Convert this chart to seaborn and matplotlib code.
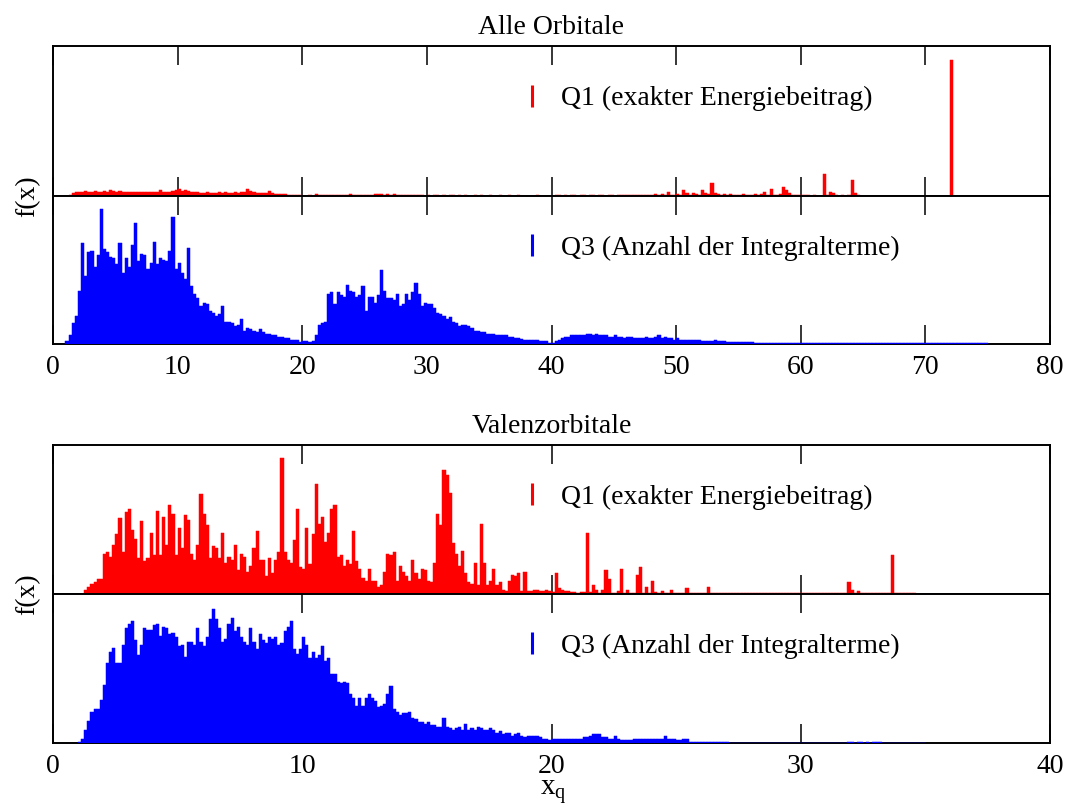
import numpy as np
import pandas as pd
import matplotlib
matplotlib.use("Agg")
import matplotlib.pyplot as plt
from matplotlib.lines import Line2D
import seaborn as sns

# ---------------- data ----------------
# All orbitals: histogram bins of width 0.25 starting at x = 1.0
all_start = 1.0
all_width = 0.25
q1_all = [
    0, 1, 2, 2.5, 3, 3, 3.5, 3,
    3, 3.5, 3, 3, 3.5, 3, 4, 3.5,
    3, 3.5, 3, 2.5, 3, 2.5, 3, 2.5,
    2.5, 3, 2.5, 3, 3, 2.5, 4, 2.5,
    3, 3, 3.5, 4, 4.5, 3.5, 4, 3.5,
    3, 3, 2.5, 2, 2, 2.5, 2, 2,
    2, 2.5, 2, 3, 2, 2, 2.5, 2,
    2.5, 3, 4.5, 3.5, 2.5, 2, 2, 2,
    2, 3.5, 2, 1.5, 1.5, 1.5, 1.5, 1,
    1, 1, 1, 0.5, 0.3, 0.3, 0.5, 0.3,
    1.5, 0.5, 0.8, 0.8, 0.5, 1, 0.8, 0.8,
    0.8, 1, 1, 1.2, 1, 0.8, 1, 0.8,
    0.8, 0.8, 1, 1.5, 1.5, 1.5, 1, 1.5,
    1, 1.2, 0.8, 1, 0.8, 0.5, 0.8, 0.5,
    0.5, 0.8, 0.5, 0.3, 0.5, 0.3, 0.8, 0.5,
    0.3, 0.8, 0.3, 0.5, 0.5, 0.3, 0.5, 0.3,
    0.5, 0.3, 0.3, 0.5, 0.3, 0.5, 0.3, 0.3,
    0.5, 0.3, 0.3, 0.5, 0.3, 0.3, 0.5, 0.3,
    0.3, 0.5, 0.3, 0.3, 0.3, 0.3, 0.3, 0.5,
    0.3, 0.3, 0.3, 0.3, 0.3, 1, 0.5, 0.3,
    0.5, 0.3, 0.8, 0.5, 0.3, 0.5, 0.8, 0.3,
    0.5, 0.8, 0.3, 0.5, 0.5, 0.3, 0.8, 0.5,
    0.3, 0.8, 0.5, 0.5, 0.8, 0.8, 1, 0.8,
    1, 0.8, 1, 1, 1, 1.5, 1, 1.2,
    1, 3, 1, 0.5, 1.5, 1, 4, 2,
    1, 2, 1.5, 1, 4, 2, 1.5, 8.4,
    2, 1.5, 1, 1.5, 1, 1.5, 1, 1,
    1, 1.5, 1, 1, 1, 1.5, 1, 1.5,
    3, 1, 4.5, 1, 1, 1.5, 6, 4,
    2, 1, 1, 0.5, 0.5, 0.5, 0.5, 0,
    0.5, 0, 0, 15, 0.5, 3, 2, 0.5,
    0, 0.5, 0, 0.5, 10.7, 2, 0.5, 0,
    0, 0, 0, 0, 0, 0, 0, 0,
    0, 0, 0, 0, 0, 0, 0, 0,
    0, 0, 0, 0, 0, 0, 0, 0,
    0, 0, 0, 0, 91, 0, 0, 0,
    0, 0, 0, 0, 0, 0, 0, 0,
]
q3_all = [
    2, 6, 14, 19, 36, 68, 46, 62,
    63, 52, 60, 91, 64, 62, 59, 58,
    54, 68, 48, 58, 52, 67, 82, 56,
    61, 60, 51, 55, 69, 54, 58, 57,
    56, 63, 86, 51, 55, 48, 44, 65,
    39, 34, 31, 26, 28, 27, 22, 21,
    19, 20, 26, 15, 15, 14, 12, 13,
    17, 9, 11, 10, 9, 8, 10, 8,
    7, 7, 6, 6, 5, 5, 4, 4,
    3, 3, 2.5, 1.5, 2, 2, 1.5, 2,
    6, 13, 14, 15, 34, 35, 27, 35,
    33, 32, 40, 36, 35, 32, 33, 39,
    22, 32, 32, 28, 33, 50, 36, 31,
    31, 30, 34, 26, 27, 34, 30, 35,
    41, 34, 26, 28, 27, 27, 24, 21,
    20, 19, 17, 18, 15, 14, 12, 13,
    13, 12, 11, 9, 9, 8, 8, 7,
    7, 7, 6, 6, 6, 6, 5, 5,
    4, 4, 3.5, 3, 3, 3, 2.5, 2.5,
    2, 2, 2, 1, 1, 2, 3, 4,
    5, 5, 6, 6, 6, 6, 6, 7,
    7, 6, 7, 6, 6, 6, 5, 5,
    6, 5, 5, 4, 5, 5, 4, 4,
    4, 4, 5, 4, 4, 5, 6, 4,
    5, 4, 4, 3, 4, 3, 3, 3,
    3, 2.5, 2.5, 2.5, 2, 2, 2, 2,
    3, 2, 2, 2, 1.5, 1.5, 1.5, 1.5,
    1.5, 1.2, 1.2, 1.2, 1.2, 1, 1, 1,
    1, 1, 1, 1, 0.8, 0.8, 0.8, 0.8,
    0.8, 0.8, 0.8, 0.8, 0.6, 0.6, 0.6, 0.6,
    0.6, 0.6, 0.6, 0.6, 0.6, 0.6, 0.6, 0.6,
    0.6, 0.6, 0.6, 0.6, 0.6, 0.6, 0.6, 0.6,
    0.6, 0.6, 0.6, 0.6, 0.6, 0.6, 0.6, 0.6,
    0.6, 0.6, 0.6, 0.6, 0.6, 0.6, 0.6, 0.6,
    0.6, 0.6, 0.6, 0.6, 0.6, 0.6, 0.6, 0.6,
    0.6, 0.6, 0.6, 0.6, 0.6, 0.6, 0.6, 0.6,
    0.6, 0.6, 0.6, 0.6, 0.6, 0.6, 0.6, 0.6,
]

# Valence orbitals: histogram bins of width 0.125 starting at x = 1.0
val_start = 1.0
val_width = 0.125
q1_val = [
    0, 0, 3, 5, 7, 8, 10, 10,
    27, 28, 25, 33, 40, 51, 28, 55,
    57, 43, 37, 24, 49, 22, 24, 41,
    26, 56, 26, 52, 33, 60, 54, 26,
    44, 31, 53, 50, 27, 23, 33, 67,
    54, 46, 24, 32, 31, 24, 41, 21,
    25, 23, 33, 16, 27, 25, 15, 19,
    31, 42, 23, 23, 12, 24, 14, 23,
    28, 91, 28, 23, 21, 36, 57, 18,
    17, 44, 20, 40, 74, 47, 52, 35,
    41, 57, 60, 25, 26, 19, 23, 20,
    42, 22, 17, 11, 9, 17, 9, 9,
    5, 6, 15, 27, 26, 28, 9, 19,
    15, 12, 9, 23, 14, 10, 17, 16,
    9, 8, 21, 54, 46, 83, 80, 68,
    34, 27, 19, 29, 14, 8, 7, 21,
    6, 47, 21, 6, 9, 17, 6, 8,
    3, 2, 9, 13, 12, 14, 2, 15,
    2, 2, 2.5, 3, 2, 2, 2.5, 2,
    1.5, 14, 4, 3, 2, 2, 1.5, 1.5,
    1, 1.5, 1.5, 41, 1.5, 6, 3, 1,
    3, 16, 10, 1, 1, 2, 17, 1,
    2.5, 1, 1, 13, 18, 1, 5, 1,
    9, 1.5, 1, 2, 1, 1, 3, 1,
    1, 1, 1, 4, 1, 1, 0.5, 0.5,
    0.5, 0.5, 5, 0.5, 0.5, 0.5, 0.5, 0.5,
    0.5, 0.5, 0.5, 0.5, 0.5, 0.5, 0.5, 0.5,
    0.5, 0.5, 0.5, 0.5, 0.5, 0.5, 0.5, 0.5,
    0.5, 0.5, 0.5, 0.5, 0.5, 0.5, 0.5, 0.5,
    0.5, 0.5, 0.5, 0.5, 0.5, 0.5, 0.5, 0.5,
    0.5, 0.5, 0.5, 0.5, 0.5, 0.5, 0.5, 8,
    3, 0.5, 2, 0.5, 0.5, 0.5, 0.5, 1,
    0.5, 0.5, 0.5, 0.5, 0.5, 26, 0.5, 0.5,
    0.5, 0.5, 0.5, 0.5, 0.5, 0, 0, 0,
]
q3_val = [
    1, 3, 9, 15, 21, 23, 23, 29,
    39, 54, 61, 64, 54, 54, 66, 77,
    80, 82, 69, 59, 66, 77, 76, 76,
    79, 80, 72, 78, 77, 73, 74, 71,
    65, 66, 58, 68, 68, 66, 77, 68,
    65, 71, 83, 90, 83, 77, 68, 70,
    80, 84, 75, 78, 71, 68, 66, 77,
    68, 63, 73, 69, 67, 71, 70, 71,
    66, 67, 75, 78, 82, 63, 60, 63,
    71, 66, 57, 61, 57, 59, 65, 55,
    57, 46, 46, 41, 40, 41, 40, 33,
    30, 25, 30, 25, 30, 33, 30, 28,
    24, 25, 26, 33, 38, 23, 21, 19,
    20, 20, 21, 17, 16, 14, 14, 13,
    14, 12, 12, 11, 11, 17, 11, 10,
    9, 10, 11, 9, 13, 9, 10, 9,
    11, 10, 9, 9, 10, 9, 7, 8,
    6, 7, 7, 5, 6, 7, 5, 4,
    5, 5, 5, 5, 4, 3, 3, 2,
    2.5, 3, 2.5, 2.5, 2.5, 2.5, 3, 3,
    3, 3, 4, 4, 5, 6, 6, 6,
    4, 4, 3, 3, 4.5, 3, 2, 2,
    2, 2, 2.5, 2.5, 2.5, 2.5, 3, 3,
    3, 3, 3, 3, 5, 3, 2.5, 2.5,
    2, 2, 2.5, 2.5, 1, 1, 1, 1,
    1, 1, 1, 1, 0.8, 0.8, 0.7, 0.7,
    0.5, 0, 0, 0, 0, 0, 0, 0,
    0, 0, 0, 0, 0, 0, 0, 0,
    0, 0, 0, 0, 0, 0, 0, 0,
    0, 0, 0, 0, 0, 0, 0, 0,
    0, 0, 0, 0, 0, 0, 0, 0.8,
    0.8, 0, 0.8, 0.6, 0, 0.8, 0, 0.6,
    0.8, 0.6, 0, 0, 0, 0, 0, 0,
    0, 0, 0, 0, 0, 0, 0, 0,
]

panel_titles = ["Alle Orbitale", "Valenzorbitale"]
q1_label = "Q1 (exakter Energiebeitrag)"
q3_label = "Q3 (Anzahl der Integralterme)"
xticks_all = [0, 10, 20, 30, 40, 50, 60, 70, 80]
xticks_val = [0, 10, 20, 30, 40]

# ---------------- style ----------------
sns.set_theme(style="white")
plt.rcParams["font.family"] = ["Liberation Serif", "DejaVu Serif"]
plt.rcParams["mathtext.fontset"] = "custom"
plt.rcParams["mathtext.rm"] = "Liberation Serif"
plt.rcParams["mathtext.it"] = "Liberation Serif:italic"
plt.rcParams["text.color"] = "black"
plt.rcParams["axes.labelcolor"] = "black"
plt.rcParams["xtick.color"] = "black"
plt.rcParams["ytick.color"] = "black"

FS = 20
W, H = 1066, 807
fig = plt.figure(figsize=(W / 100, H / 100), dpi=100)


def px_axes(left, top, right, bottom):
    return fig.add_axes([left / W, 1 - bottom / H, (right - left) / W, (bottom - top) / H])


def draw_hist(ax, start, width, values, color):
    values = np.asarray(values, dtype=float)
    edges = start + width * np.arange(len(values) + 1)
    df = pd.DataFrame({"x": edges[:-1] + width / 2, "w": values})
    sns.histplot(data=df, x="x", weights="w", bins=[float(e) for e in edges], ax=ax,
                 color=color, alpha=1.0, edgecolor=color, linewidth=0.35,
                 element="bars", stat="count", zorder=3)


def style_axis(ax, xmax, ticks, show_labels):
    ax.set_xlim(0, xmax)
    ax.set_ylim(0, 100)
    ax.set_xlabel("")
    ax.set_ylabel("")
    ax.set_yticks([])
    ax.set_xticks(ticks)
    ax.tick_params(axis="x", direction="in", length=14, width=1.1, color="black",
                   labelcolor="black", top=True, bottom=True,
                   labelbottom=show_labels, labeltop=False, labelsize=FS, pad=8)
    for sp in ax.spines.values():
        sp.set_color("black")
        sp.set_linewidth(1.4)
        sp.set_visible(True)
    ax.set_facecolor("white")


def add_key(ax, color, label):
    handle = Line2D([], [], color=color, marker="|", linestyle="None",
                    markersize=16, markeredgewidth=2.2)
    ax.legend([handle], [label], loc="center left", bbox_to_anchor=(0.4664, 0.65),
              frameon=False, borderpad=0, borderaxespad=0, handlelength=1.0,
              handletextpad=0.55, fontsize=FS, labelcolor="black")


L, R = 53, 1050
# upper panel: all orbitals
ax1r = px_axes(L, 46, R, 196)
ax1b = px_axes(L, 196, R, 344)
# lower panel: valence orbitals
ax2r = px_axes(L, 445, R, 594)
ax2b = px_axes(L, 594, R, 743)

draw_hist(ax1r, all_start, all_width, q1_all, "#ff0000")
draw_hist(ax1b, all_start, all_width, q3_all, "#0000ff")
draw_hist(ax2r, val_start, val_width, q1_val, "#ff0000")
draw_hist(ax2b, val_start, val_width, q3_val, "#0000ff")

style_axis(ax1r, 80, xticks_all, False)
style_axis(ax1b, 80, xticks_all, True)
style_axis(ax2r, 40, xticks_val, False)
style_axis(ax2b, 40, xticks_val, True)

add_key(ax1r, "#ff0000", q1_label)
add_key(ax1b, "#0000ff", q3_label)
add_key(ax2r, "#ff0000", q1_label)
add_key(ax2b, "#0000ff", q3_label)

ax1r.set_title(panel_titles[0], fontsize=FS, pad=9, color="black")
ax2r.set_title(panel_titles[1], fontsize=FS, pad=9, color="black")

fig.text(28 / W, 1 - 196 / H, "f(x)", rotation=90, ha="center", va="center", fontsize=FS)
fig.text(28 / W, 1 - 594 / H, "f(x)", rotation=90, ha="center", va="center", fontsize=FS)
fig.text(553 / W, 1 - 792 / H, r"$\mathrm{x}_\mathrm{q}$", ha="center", va="center", fontsize=FS + 1)

fig.savefig("out.png", dpi=100, facecolor="white")
